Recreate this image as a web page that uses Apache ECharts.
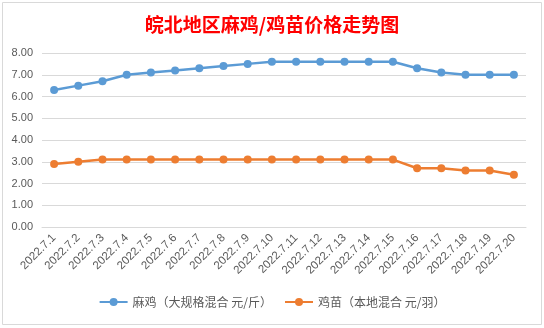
<!DOCTYPE html>
<html>
<head>
<meta charset="utf-8">
<script src="https://cdn.jsdelivr.net/npm/echarts@6/dist/echarts.min.js"></script>
<style>
html,body{margin:0;padding:0;background:#fff;}
#chart{width:544px;height:328px;}
</style>
</head>
<body>
<div id="chart"></div>
<script>
const titleText = '皖北地区麻鸡/鸡苗价格走势图';
const categories = ['2022.7.1','2022.7.2','2022.7.3','2022.7.4','2022.7.5','2022.7.6','2022.7.7','2022.7.8','2022.7.9','2022.7.10','2022.7.11','2022.7.12','2022.7.13','2022.7.14','2022.7.15','2022.7.16','2022.7.17','2022.7.18','2022.7.19','2022.7.20'];
const seriesNames = ['麻鸡（大规格混合 元/斤）','鸡苗（本地混合 元/羽）'];
const maji = [6.3,6.5,6.7,7.0,7.1,7.2,7.3,7.4,7.5,7.6,7.6,7.6,7.6,7.6,7.6,7.3,7.1,7.0,7.0,7.0];
const jimiao = [2.9,3.0,3.1,3.1,3.1,3.1,3.1,3.1,3.1,3.1,3.1,3.1,3.1,3.1,3.1,2.7,2.7,2.6,2.6,2.4];

const chart = echarts.init(document.getElementById('chart'));
const font = '"Liberation Sans","Noto Sans CJK SC",sans-serif';
chart.setOption({
  animation:false,
  textStyle:{fontFamily:font},
  title:{
    text:titleText,
    left:'center',
    top:10,
    textStyle:{color:'#ff0000',fontSize:19,fontWeight:'bold',fontFamily:'"Noto Sans CJK SC",sans-serif'}
  },
  graphic:[{type:'rect',shape:{x:2.5,y:2.5,width:539,height:322},style:{fill:'none',stroke:'#d9d9d9',lineWidth:1},silent:true}],
  legend:{
    bottom:15,
    left:'center',
    itemWidth:28,
    itemHeight:10,
    itemGap:12,
    textStyle:{color:'#595959',fontSize:12,fontFamily:'"Noto Sans CJK SC",sans-serif'},
    data:seriesNames
  },
  grid:{left:42,right:18,top:53,bottom:101},
  xAxis:{
    type:'category',
    data:categories,
    boundaryGap:true,
    axisLine:{lineStyle:{color:'#d9d9d9'}},
    axisTick:{show:false},
    axisLabel:{rotate:45,color:'#595959',fontSize:11.5,margin:9,interval:0}
  },
  yAxis:{
    type:'value',
    min:0,max:8,interval:1,
    axisLine:{show:false},
    axisTick:{show:false},
    splitLine:{lineStyle:{color:'#d9d9d9'}},
    axisLabel:{color:'#595959',fontSize:11,margin:9,formatter:v=>v.toFixed(2)}
  },
  series:[
    {name:seriesNames[0],type:'line',data:maji,symbol:'circle',symbolSize:8,
     lineStyle:{width:2.5,color:'#5b9bd5'},itemStyle:{color:'#5b9bd5'}},
    {name:seriesNames[1],type:'line',data:jimiao,symbol:'circle',symbolSize:8,
     lineStyle:{width:2.5,color:'#ed7d31'},itemStyle:{color:'#ed7d31'}}
  ]
});
</script>
</body>
</html>
